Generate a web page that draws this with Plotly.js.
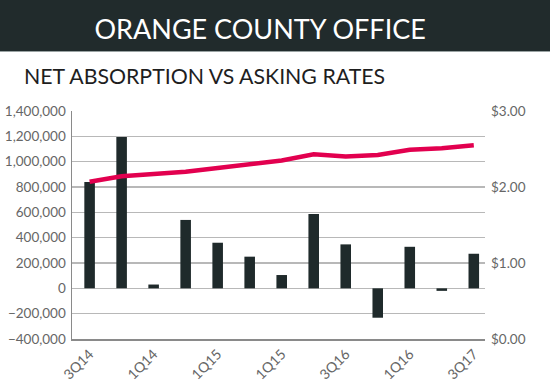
<!DOCTYPE html>
<html>
<head>
<meta charset="utf-8">
<script src="https://cdn.plot.ly/plotly-3.0.1.min.js"></script>
<style>html,body{margin:0;padding:0;background:#fff}#chart{width:550px;height:388px}</style>
</head>
<body>
<div id="chart"></div>
<script>
const quarterIndex = [0,1,2,3,4,5,6,7,8,9,10,11,12];
const netAbsorption = [840000,1195000,30000,540000,360000,250000,105000,587000,347000,-232000,328000,-20000,273000];
const askingRate = [2.07,2.14,2.17,2.20,2.25,2.30,2.35,2.43,2.40,2.42,2.49,2.51,2.55];
const tickPositions = [0,2,4,6,8,10,12];
const tickLabels = ['3Q14','1Q14','1Q15','1Q15','3Q16','1Q16','3Q17'];
const leftTicks = [-400000,-200000,0,200000,400000,600000,800000,1000000,1200000,1400000];
const rightTicks = [0,1,2,3];
const rightLabels = ['$0.00','$1.00','$2.00','$3.00'];

const tickFont = {family:'Lato, "Open Sans", sans-serif', size:13.5, color:'#666666'};
const xTickFont = {family:'Lato, "Open Sans", sans-serif', size:14, color:'#666666'};

const traces = [
  {type:'bar', x:quarterIndex, y:netAbsorption, width:0.33,
   marker:{color:'#1f2a2b'}, yaxis:'y', hoverinfo:'skip'},
  {type:'scatter', mode:'lines', x:quarterIndex, y:askingRate,
   line:{color:'#e2004f', width:4.5}, yaxis:'y2', hoverinfo:'skip'}
];

const layout = {
  width:550, height:388,
  margin:{l:72, r:65, t:111, b:49},
  showlegend:false,
  paper_bgcolor:'#fff', plot_bgcolor:'#fff',
  title:{text:'ORANGE COUNTY OFFICE', x:0.473, xanchor:'center', y:0.923, yanchor:'middle',
         font:{family:'Lato, sans-serif', size:27, color:'#ffffff'}},
  xaxis:{range:[-0.55,12.35], tickvals:tickPositions, ticktext:tickLabels, tickangle:-45,
         showgrid:false, zeroline:false, showline:true, linecolor:'#8a8a8a', linewidth:1.5,
         ticks:'', tickfont:xTickFont, fixedrange:true},
  yaxis:{range:[-400000,1400000], tickvals:leftTicks, tickformat:',d',
         showgrid:true, gridcolor:'#b8b8b8', gridwidth:1.4, zeroline:false,
         showline:true, linecolor:'#8a8a8a', linewidth:1.5, ticks:'', ticklabelstandoff:2,
         tickfont:tickFont, fixedrange:true},
  yaxis2:{range:[0,3], tickvals:rightTicks, ticktext:rightLabels, overlaying:'y', side:'right',
          showgrid:false, zeroline:false, showline:false, ticks:'', ticklabelstandoff:5,
          tickfont:tickFont, fixedrange:true},
  shapes:[
    {type:'rect', xref:'paper', yref:'paper', x0:-0.2, x1:1.2, y0:(339-51)/228, y1:1.6,
     fillcolor:'#212b2c', line:{width:0}, layer:'below'},
    {type:'line', xref:'paper', yref:'paper', x0:-0.2, x1:1.2, y0:(339-51.5)/228, y1:(339-51.5)/228,
     line:{color:'#9aa3a3', width:1}}
  ],
  annotations:[
    {text:'NET ABSORPTION VS ASKING RATES', xref:'paper', yref:'paper',
     x:(22-72)/413, y:(339-76)/228, xanchor:'left', yanchor:'middle', showarrow:false,
     font:{family:'Lato, sans-serif', size:21.3, color:'#1e1e1e'}}
  ]
};

Plotly.newPlot('chart', traces, layout, {displayModeBar:false, staticPlot:true});
</script>
</body>
</html>
